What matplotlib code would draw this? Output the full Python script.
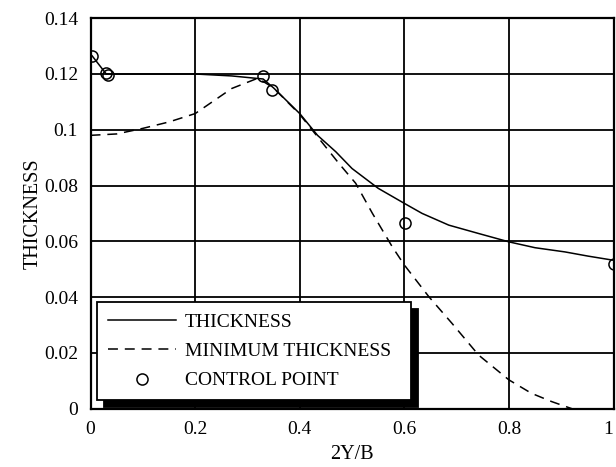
import matplotlib.pyplot as plt

plt.rcParams['font.family'] = ['Liberation Serif', 'DejaVu Serif']

# THICKNESS distribution along the span
thick_x = [0.003, 0.03, 0.10, 0.20, 0.27, 0.33, 0.35, 0.40, 0.434, 0.469, 0.50,
           0.55, 0.60, 0.634, 0.685, 0.742, 0.80, 0.85, 0.907, 0.951, 1.0]
thick_y = [0.1265, 0.1200, 0.1200, 0.1200, 0.1193, 0.1182, 0.1150, 0.1058, 0.0980,
           0.0921, 0.0861, 0.0790, 0.0736, 0.0700, 0.0658, 0.0628, 0.0598, 0.0577,
           0.0562, 0.0547, 0.0532]

# MINIMUM THICKNESS
min_x = [0.0, 0.05, 0.10, 0.15, 0.20, 0.27, 0.32, 0.35, 0.40, 0.434, 0.475, 0.507,
         0.539, 0.577, 0.60, 0.647, 0.691, 0.742, 0.80, 0.843, 0.882, 0.92]
min_y = [0.0980, 0.0985, 0.1005, 0.1028, 0.1058, 0.1148, 0.1185, 0.1150, 0.1055,
         0.0975, 0.0879, 0.0808, 0.0700, 0.0580, 0.0515, 0.0401, 0.0306, 0.0192,
         0.0103, 0.0055, 0.0025, 0.0]

# CONTROL POINT
cp_x = [0.003, 0.029, 0.033, 0.329, 0.347, 0.602, 1.0]
cp_y = [0.1265, 0.1205, 0.1197, 0.1193, 0.1142, 0.0666, 0.0517]

fig = plt.figure(figsize=(6.16, 4.67), dpi=100)
ax = fig.add_axes([0.147, 0.125, 0.849, 0.836])

ax.plot(thick_x, thick_y, color='black', linewidth=1.1, label='THICKNESS')
ax.plot(min_x, min_y, color='black', linewidth=1.1, linestyle=(0, (6.5, 4.5)),
        label='MINIMUM THICKNESS')
ax.plot(cp_x, cp_y, linestyle='none', marker='o', markersize=8,
        markerfacecolor='none', markeredgecolor='black', markeredgewidth=1.1,
        label='CONTROL POINT')

ax.set_xlim(0, 1)
ax.set_ylim(0, 0.14)
ax.set_xticks([0, 0.2, 0.4, 0.6, 0.8, 1.0])
ax.set_xticklabels(['0', '0.2', '0.4', '0.6', '0.8', '1'])
ax.set_yticks([0, 0.02, 0.04, 0.06, 0.08, 0.1, 0.12, 0.14])
ax.set_yticklabels(['0', '0.02', '0.04', '0.06', '0.08', '0.1', '0.12', '0.14'])
ax.tick_params(length=0, labelsize=14)
ax.tick_params(axis='y', pad=9)
ax.tick_params(axis='x', pad=9)
# keep the "1" label inside the figure edge, as in the original
ax.get_xticklabels()[-1].set_horizontalalignment('right')
ax.grid(True, color='black', linewidth=1.3)
ax.set_axisbelow(True)
for s in ax.spines.values():
    s.set_linewidth(1.6)

ax.set_xlabel('2Y/B', fontsize=14.5, labelpad=5)
ax.set_ylabel('THICKNESS', fontsize=14.5, labelpad=1)

leg = ax.legend(loc='lower left', bbox_to_anchor=(0.013, 0.022, 0.6, 0.273),
                mode='expand', borderaxespad=0, fancybox=False, fontsize=14,
                handlelength=3.5, handletextpad=0.45, labelspacing=0.6,
                borderpad=0.55, framealpha=1,
                shadow={'ox': 5, 'oy': -5, 'color': 'black', 'alpha': 1})
leg.get_frame().set_edgecolor('black')
leg.get_frame().set_linewidth(1.3)

fig.savefig('out.png', dpi=100)
